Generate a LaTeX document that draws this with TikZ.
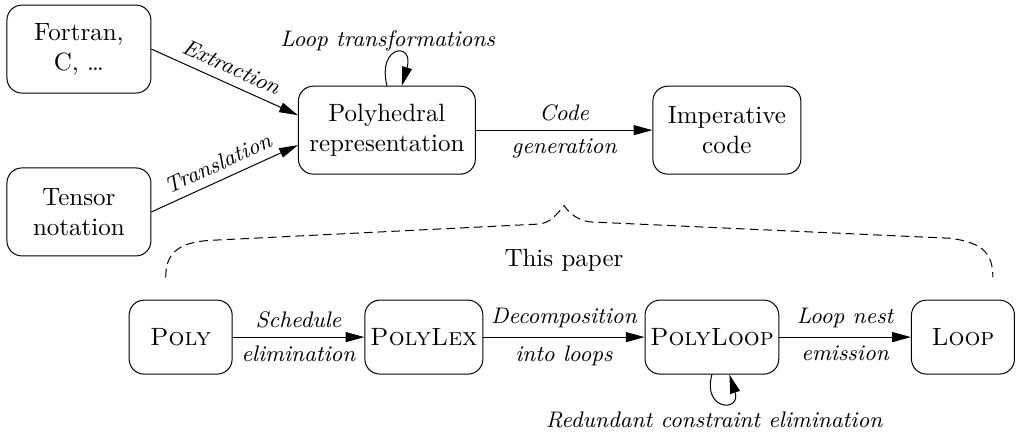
\documentclass[tikz,border=0pt]{standalone}
\usetikzlibrary{arrows.meta}

\tikzset{
  block/.style={draw, rounded corners=6pt, align=center, minimum height=35.2pt, inner sep=2pt},
  stage/.style={block, minimum height=29.6pt},
  arr/.style={-{Triangle[length=7.5pt,width=4pt]}},
  lbl/.style={font=\fontsize{9}{11}\selectfont\itshape},
}

\begin{document}
\begin{tikzpicture}
  \useasboundingbox (0,0) rectangle (14.30,6.09);

  % Front ends and polyhedral model
  \node[block, minimum width=57.6pt] (src) at (1.11,5.40) {Fortran,\\ C, \ldots};
  \node[block, minimum width=57.6pt] (tensor) at (1.11,3.11) {Tensor\\ notation};
  \node[block, minimum width=70.8pt] (rep) at (5.44,4.26) {Polyhedral\\ representation};
  \node[block, minimum width=59.2pt] (imp) at (10.22,4.26) {Imperative\\ code};

  \draw[arr] (src.east) -- ([yshift=6pt]rep.west) node[lbl, midway, sloped, above] {Extraction};
  \draw[arr] (tensor.east) -- ([yshift=-6pt]rep.west) node[lbl, midway, sloped, above] {Translation};
  \draw[arr] (rep) -- (imp)
    node[lbl, midway, above] {Code}
    node[lbl, midway, below] {generation};

  % Self loop on the model
  \draw[arr] (rep.north) .. controls +(-0.14,0.58) and +(0.18,0.62) .. ([xshift=6pt]rep.north);
  \node[lbl] (looplbl) at (5.45,5.52) {Loop transformations};

  % Brace over this paper
  \draw[dash pattern=on 3.5pt off 2pt] (2.33,2.19) .. controls (2.33,2.50) and (2.47,2.68) .. (2.95,2.71)
    -- (7.59,2.94) .. controls (7.76,2.97) and (7.84,3.09) .. (7.93,3.20)
    .. controls (8.01,3.09) and (8.11,3.00) .. (8.29,2.97)
    -- (13.35,2.74) .. controls (13.85,2.68) and (13.96,2.50) .. (13.96,2.19);
  \node (paper) at (7.93,2.43) {This paper};

  % Languages of the pipeline
  \node[stage, minimum width=41.2pt] (poly) at (2.54,1.35) {\textsc{Poly}};
  \node[stage, minimum width=47.2pt] (plex) at (5.96,1.35) {\textsc{PolyLex}};
  \node[stage, minimum width=53.2pt] (ploop) at (10.01,1.35) {\textsc{PolyLoop}};
  \node[stage, minimum width=41.2pt] (loop) at (13.54,1.35) {\textsc{Loop}};

  \draw[arr] (poly) -- (plex)
    node[lbl, midway, above] {Schedule}
    node[lbl, midway, below] {elimination};
  \draw[arr] (plex) -- (ploop)
    node[lbl, midway, above] {Decomposition}
    node[lbl, midway, below] {into loops};
  \draw[arr] (ploop) -- (loop)
    node[lbl, midway, above] {Loop nest}
    node[lbl, midway, below] {emission};

  % Self loop on PolyLoop
  \draw[arr] (ploop.south) .. controls +(-0.14,-0.51) and +(0.17,-0.53) .. ([xshift=7pt]ploop.south);
  \node[lbl] (redlbl) at (10.04,0.18) {Redundant constraint elimination};
\end{tikzpicture}
\end{document}
